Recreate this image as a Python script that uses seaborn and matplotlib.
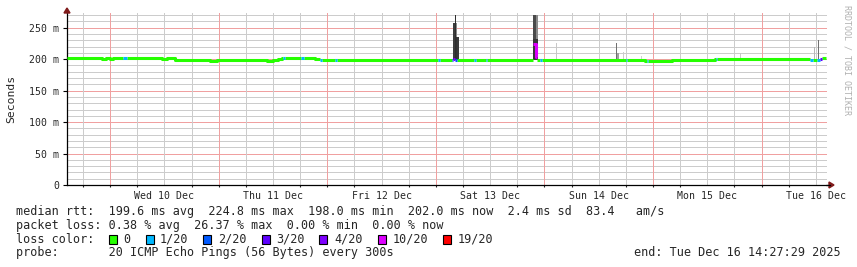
import numpy as np
import pandas as pd
import matplotlib
matplotlib.use("Agg")
import matplotlib.pyplot as plt
import seaborn as sns
from matplotlib.patches import Rectangle, Polygon
from matplotlib.lines import Line2D

# ---------------- data (hours since Tue 9 Dec 14:27:29) ----------------
med_hours = [0.00, 7.74, 8.62, 9.50, 10.17, 12.38, 13.26, 21.00, 22.10, 23.87,
             27.63, 28.07, 31.61, 33.16, 44.21, 45.54, 46.64, 47.52, 47.75, 48.19,
             51.72, 52.28, 54.82, 55.92, 56.37, 58.58, 59.24, 59.68, 60.57, 61.01,
             82.01, 82.45, 85.10, 85.39, 85.76, 86.14, 89.96, 90.30, 92.62, 92.95,
             102.94, 103.07, 103.60, 103.96, 104.55, 105.00, 123.56, 123.89, 127.76, 128.20,
             128.54, 133.73, 143.24, 143.46, 143.79, 149.20, 150.53, 153.85, 155.39, 159.37,
             160.48, 164.23, 164.90, 165.78, 166.45, 166.82]
med_ms = [202.0, 201.0, 202.0, 201.0, 202.0, 201.5, 202.0, 201.0, 202.0, 198.5,
          198.0, 198.5, 197.0, 198.5, 197.0, 198.0, 200.0, 202.0, 202.0, 202.0,
          202.0, 202.0, 200.0, 198.5, 198.5, 198.0, 198.5, 198.5, 198.0, 198.5,
          198.5, 198.5, 199.0, 200.0, 199.0, 198.5, 198.0, 198.5, 198.0, 198.5,
          198.5, 224.8, 204.0, 198.5, 198.5, 198.0, 198.5, 198.5, 197.5, 197.5,
          197.5, 198.5, 199.5, 199.5, 199.5, 201.0, 199.5, 201.0, 199.5, 201.0,
          199.5, 199.0, 199.0, 199.0, 200.0, 202.5]
med_loss = [0, 0, 0, 0, 0, 1, 0, 0, 0, 0,
            0, 0, 0, 0, 0, 0, 0, 0, 1, 0,
            1, 0, 0, 1, 0, 0, 1, 0, 0, 0,
            1, 0, 2, 4, 2, 0, 1, 0, 1, 0,
            1, 10, 10, 0, 1, 0, 1, 0, 0, 1,
            0, 0, 0, 1, 0, 0, 0, 0, 0, 0,
            0, 1, 0, 1, 3, 0]
end_hour = 167.77

smoke_hours = [85.23, 85.36, 85.67, 85.89, 86.10, 86.14,
               102.94, 102.94, 102.94,
               108.00, 121.35, 121.57, 122.80, 126.80, 148.76, 165.10, 165.90]
smoke_width = [0.25, 0.30, 0.25, 0.25, 0.12, 0.45,
               1.10, 0.65, 1.10,
               0.35, 0.25, 0.37, 0.28, 0.22, 0.22, 0.22, 0.30]
smoke_low = [199, 199, 199, 199, 236, 199,
             199, 199, 199,
             199, 199, 199, 199, 199, 199, 199, 199]
smoke_high = [241, 257, 271, 236, 258, 236,
              271, 271, 232,
              226, 226, 210, 212, 205, 210, 220, 230]
smoke_grey = ["#b0b0b0", "#3c3c3c", "#2e2e2e", "#333333", "#888888", "#3a3a3a",
              "#8a8a8a", "#4a4a4a", "#383838",
              "#c8c8c8", "#707070", "#a0a0a0", "#cccccc", "#d0d0d0", "#c8c8c8", "#b8b8b8", "#707070"]

day_labels = ["Wed 10 Dec", "Thu 11 Dec", "Fri 12 Dec", "Sat 13 Dec",
              "Sun 14 Dec", "Mon 15 Dec", "Tue 16 Dec"]
y_ticks = [0, 50, 100, 150, 200, 250]
y_tick_labels = ["0", "50 m", "100 m", "150 m", "200 m", "250 m"]
loss_levels = [0, 1, 2, 3, 4, 10, 19]
loss_names = ["0", "1/20", "2/20", "3/20", "4/20", "10/20", "19/20"]
loss_colors = ["#26ff00", "#00b8ff", "#0059ff", "#5e00ff", "#7e00ff", "#dd00ff", "#ff0000"]

first_midnight = 9.542

# ---------------- style ----------------
sns.set_theme(style="white")
plt.rcParams["font.family"] = ["DejaVu Sans Mono"]
plt.rcParams["lines.scale_dashes"] = True

W, H = 857, 267
fig = plt.figure(figsize=(W / 100, H / 100), dpi=100)
fig.patch.set_facecolor("white")


def P(x, y):
    return (x / W, 1 - y / H)


ax = fig.add_axes([67 / W, (H - 185) / H, (827 - 67) / W, (185 - 12) / H])
ax.set_facecolor("white")
ax.set_xlim(0, 168)
ax.set_ylim(0, 275)

# grid (crisp 1px dotted lines)
grey_grid = "#cccccc"
red_grid = "#f0a0a0"
for v in range(10, 275, 10):
    ax.axhline(v, color=red_grid if v % 50 == 0 else grey_grid, lw=0.72,
               ls=(0, (1, 1)), antialiased=False, zorder=1)
vpos = np.arange(first_midnight - 6, 168, 6)


def is_midnight(h):
    q = (h - first_midnight) / 24
    return abs(q - round(q)) < 1e-6


for h in vpos:
    ax.axvline(h, color=red_grid if is_midnight(h) else grey_grid, lw=0.72,
               ls=(0, (1, 1)), antialiased=False, zorder=1)

# smoke
ax.bar(smoke_hours, np.array(smoke_high) - np.array(smoke_low), width=smoke_width,
       bottom=smoke_low, align="edge", color=smoke_grey, linewidth=0, zorder=2)

# median line coloured by loss
color_of = dict(zip(loss_levels, loss_colors))
rows = []
run = 0
n = len(med_hours)
for i in range(n):
    if i > 0 and med_loss[i] != med_loss[i - 1]:
        rows.append((run, med_hours[i], med_ms[i - 1], color_of[med_loss[i - 1]]))
        run += 1
    rows.append((run, med_hours[i], med_ms[i], color_of[med_loss[i]]))
rows.append((run, end_hour, med_ms[-1], color_of[med_loss[-1]]))
df = pd.DataFrame(rows, columns=["run", "hour", "ms", "color"])
sns.lineplot(data=df, x="hour", y="ms", hue="color", units="run", estimator=None,
             palette={c: c for c in loss_colors}, sort=False, legend=False,
             drawstyle="steps-post", linewidth=2.2, solid_capstyle="butt", ax=ax, zorder=4)

# axes styling
for s in ["top", "right"]:
    ax.spines[s].set_visible(False)
for s in ["left", "bottom"]:
    ax.spines[s].set_color("black")
    ax.spines[s].set_linewidth(0.9)
ax.set_xlabel("")
ax.set_ylabel("")
ax.set_yticks(y_ticks)
ax.set_yticklabels(y_tick_labels, fontsize=7.1)
ax.tick_params(axis="y", length=3, width=0.8, color="black", pad=2.5, left=True)
noon = [first_midnight + 12 + 24 * k for k in range(7)]
ax.set_xticks(noon)
ax.set_xticklabels(day_labels, fontsize=7.1)
ax.tick_params(axis="x", which="major", length=0, pad=4.5)
ax.set_xticks(vpos, minor=True)
ax.tick_params(axis="x", which="minor", length=1.6, width=0.8, bottom=True)
for t, h in zip(ax.xaxis.get_minor_ticks(), vpos):
    t.tick1line.set_color(red_grid if is_midnight(h) else grey_grid)

# axis extension + arrows
fig.add_artist(Line2D([P(826, 185)[0], P(830, 185)[0]], [P(826, 185)[1]] * 2,
                      color="black", lw=0.9, transform=fig.transFigure))
arrow_c = "#7f1a1a"
fig.add_artist(Polygon([P(64, 13), P(70, 13), P(67, 8)], closed=True, color=arrow_c,
                       transform=fig.transFigure))
fig.add_artist(Polygon([P(829, 182), P(829, 188), P(834, 185)], closed=True, color=arrow_c,
                       transform=fig.transFigure))

# axis title & watermark
fig.text(*P(10.8, 99), "Seconds", rotation=90, ha="center", va="center", fontsize=8.2)
fig.text(*P(847, 60), "RRDTOOL / TOBI OETIKER", rotation=270, ha="center", va="center",
         fontsize=6, color="#b0b0b0")

# legend text
fs = 8.5
fig.text(*P(16, 211.7), "median rtt:  199.6 ms avg  224.8 ms max  198.0 ms min  202.0 ms now  2.4 ms sd  83.4   am/s",
         ha="left", va="center", fontsize=fs)
fig.text(*P(16, 225), "packet loss: 0.38 % avg  26.37 % max  0.00 % min  0.00 % now",
         ha="left", va="center", fontsize=fs)
fig.text(*P(16, 239.3), "loss color:", ha="left", va="center", fontsize=fs)
sq_x = [109, 146, 203, 262, 319, 378, 443]
lab_x = [123, 160, 218, 276.5, 334, 392.5, 457.5]
for sx, lx, name, col in zip(sq_x, lab_x, loss_names, loss_colors):
    x0, y0 = P(sx, 244)
    fig.add_artist(Rectangle((x0, y0), 8 / W, 9 / H, facecolor=col, edgecolor="black",
                             lw=0.8, transform=fig.transFigure))
    fig.text(*P(lx, 239.3), name, ha="left", va="center", fontsize=fs)
fig.text(*P(16, 252.7), "probe:       20 ICMP Echo Pings (56 Bytes) every 300s",
         ha="left", va="center", fontsize=fs)
fig.text(*P(841, 252.7), "end: Tue Dec 16 14:27:29 2025", ha="right", va="center", fontsize=fs)

fig.savefig("out.png", dpi=100, facecolor="white")
